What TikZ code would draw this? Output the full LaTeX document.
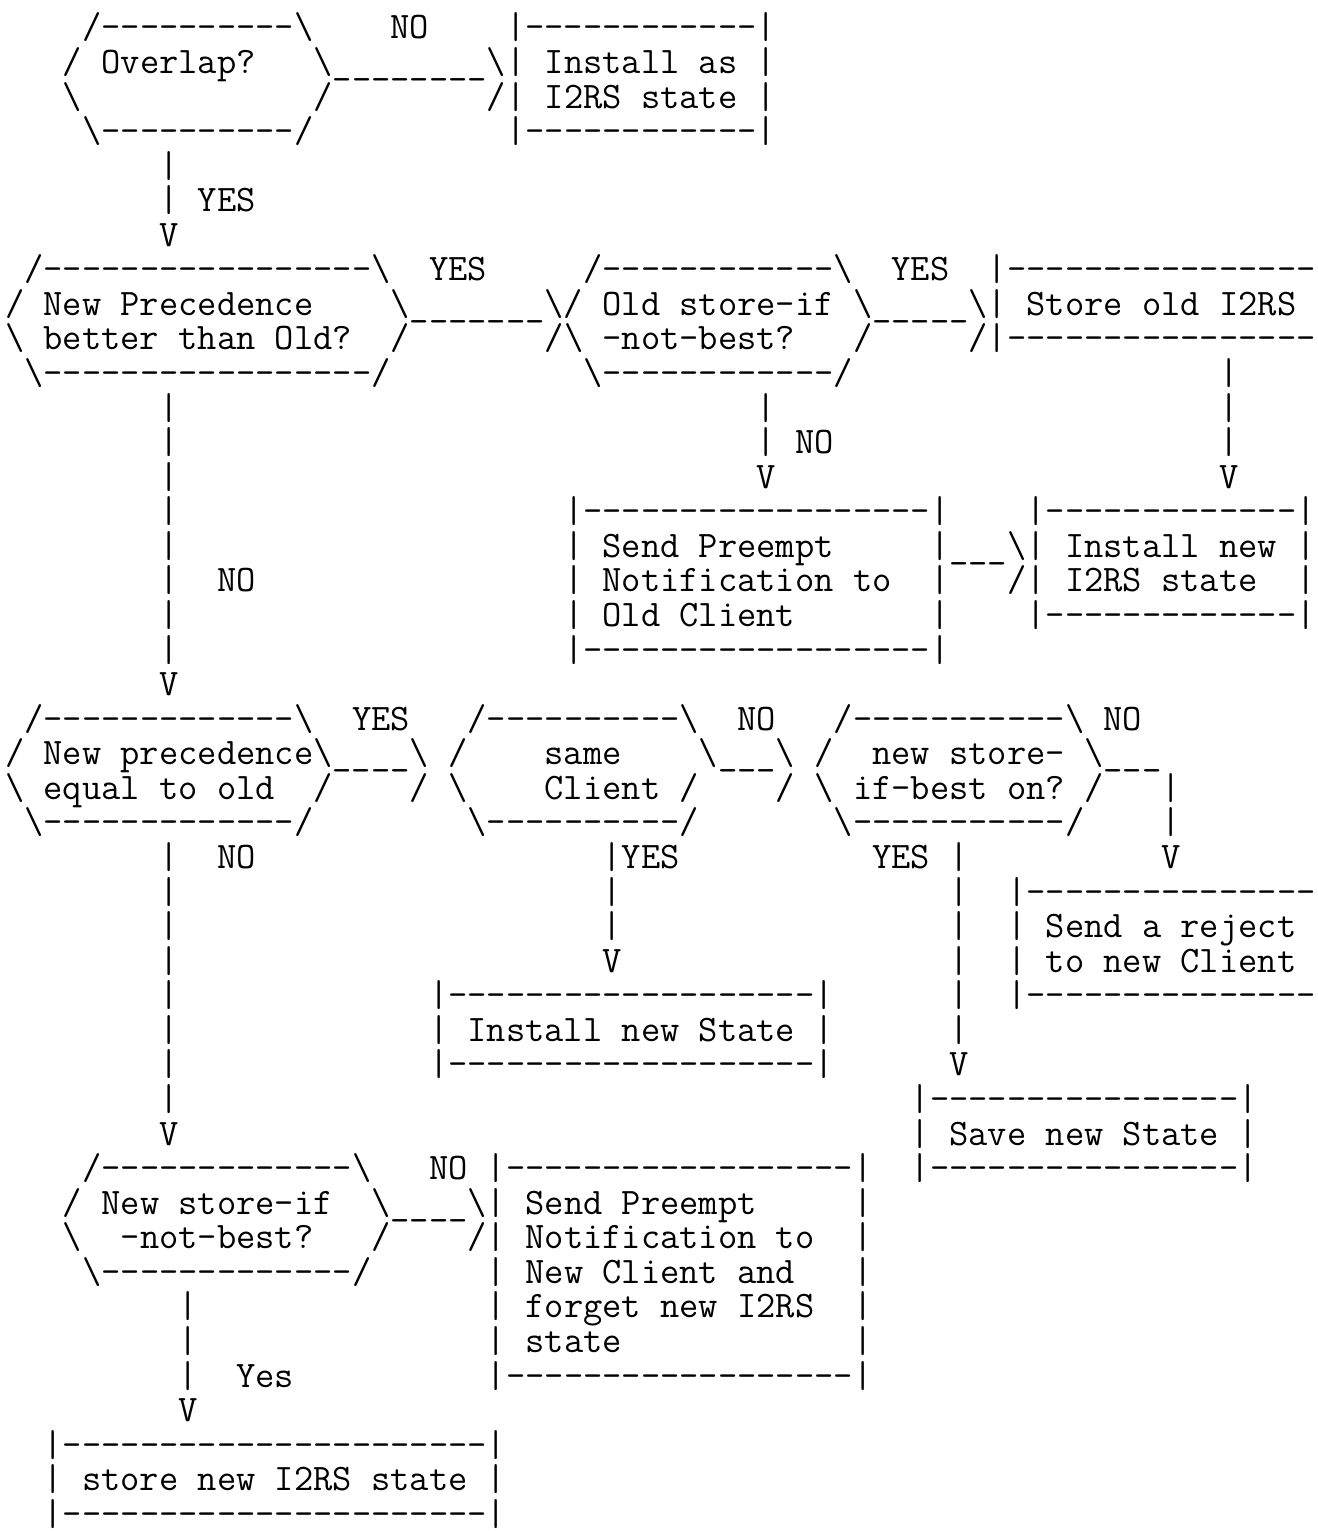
\documentclass[tikz,border=0pt]{standalone}
\usepackage{fontspec}
\usepackage{tikz}
\newcommand{\bk}{\textbackslash}
\newcommand{\gp}[1]{\hspace*{#1\fontcharwd\font`0}}

\begin{document}
\begin{tikzpicture}[x=6pt, y=-10.773pt]
	\tikzset{ascii/.style={anchor=base west, inner sep=0pt, font=\fontsize{11.662}{13}\selectfont\ttfamily\frenchspacing}}
	\useasboundingbox (-0.2333,-1.125) rectangle (68.22,43.165);

	% Overlap?
	\node[ascii] (row_0) at (0,0) {\gp{4}/----------\bk\gp{4}NO\gp{4}|------------|};
	\node[ascii] (row_1) at (0,1) {\gp{3}/ Overlap?\gp{3}\bk\_\_\_\_\_\_\_\_\bk| Install as |};
	\node[ascii] (row_2) at (0,2) {\gp{3}\bk\gp{12}/\gp{8}/| I2RS state |};
	\node[ascii] (row_3) at (0,3) {\gp{4}\bk----------/\gp{10}|------------|};
	\node[ascii] (row_4) at (0,4) {\gp{8}|};
	\node[ascii] (row_5) at (0,5) {\gp{8}| YES};
	\node[ascii] (row_6) at (0,6) {\gp{8}V};

	% precedence better / old store-if-not-best
	\node[ascii] (row_7) at (0,7) {\gp{1}/-----------------\bk\gp{2}YES\gp{5}/------------\bk\gp{2}YES\gp{2}|----------------};
	\node[ascii] (row_8) at (0,8) {/ New Precedence\gp{4}\bk\_\_\_\_\_\_\_\bk/ Old store-if\gp{1}\bk\_\_\_\_\_\bk| Store old I2RS};
	\node[ascii] (row_9) at (0,9) {\bk{} better than Old?\gp{2}/\gp{7}/\bk{} -not-best?\gp{3}/\gp{5}/|----------------};
	\node[ascii] (row_10) at (0,10) {\gp{1}\bk-----------------/\gp{10}\bk------------/\gp{19}|};
	\node[ascii] (row_11) at (0,11) {\gp{8}|\gp{30}|\gp{23}|};
	\node[ascii] (row_12) at (0,12) {\gp{8}|\gp{30}| NO\gp{20}|};
	\node[ascii] (row_13) at (0,13) {\gp{8}|\gp{30}V\gp{23}V};
	\node[ascii] (row_14) at (0,14) {\gp{8}|\gp{20}|------------------|\gp{4}|-------------|};
	\node[ascii] (row_15) at (0,15) {\gp{8}|\gp{20}| Send Preempt\gp{5}|\_\_\_\bk| Install new |};
	\node[ascii] (row_16) at (0,16) {\gp{8}|\gp{2}NO\gp{16}| Notification to\gp{2}|\gp{3}/| I2RS state\gp{2}|};
	\node[ascii] (row_17) at (0,17) {\gp{8}|\gp{20}| Old Client\gp{7}|\gp{4}|-------------|};
	\node[ascii] (row_18) at (0,18) {\gp{8}|\gp{20}|------------------|};
	\node[ascii] (row_19) at (0,19) {\gp{8}V};

	% precedence equal / same client / store-if-best
	\node[ascii] (row_20) at (0,20) {\gp{1}/-------------\bk\gp{2}YES\gp{3}/----------\bk\gp{2}NO\gp{3}/-----------\bk{} NO};
	\node[ascii] (row_21) at (0,21) {/ New precedence\bk\_\_\_\_\bk{} /\gp{4}same\gp{4}\bk\_\_\_\bk{} /\gp{2}new store-\gp{1}\bk\_\_\_};
	\node[ascii] (row_22) at (0,22) {\bk{} equal to old\gp{2}/\gp{4}/ \bk\gp{4}Client /\gp{4}/ \bk{} if-best on? /\gp{3}|};
	\node[ascii] (row_23) at (0,23) {\gp{1}\bk-------------/\gp{8}\bk----------/\gp{7}\bk-----------/\gp{4}|};
	\node[ascii] (row_24) at (0,24) {\gp{8}|\gp{2}NO\gp{18}|YES\gp{10}YES |\gp{10}V};
	\node[ascii] (row_25) at (0,25) {\gp{8}|\gp{22}|\gp{17}|\gp{2}|---------------};
	\node[ascii] (row_26) at (0,26) {\gp{8}|\gp{22}|\gp{17}|\gp{2}| Send a reject};
	\node[ascii] (row_27) at (0,27) {\gp{8}|\gp{22}V\gp{17}|\gp{2}| to new Client};
	\node[ascii] (row_28) at (0,28) {\gp{8}|\gp{13}|-------------------|\gp{6}|\gp{2}|---------------};
	\node[ascii] (row_29) at (0,29) {\gp{8}|\gp{13}| Install new State |\gp{6}|};
	\node[ascii] (row_30) at (0,30) {\gp{8}|\gp{13}|-------------------|\gp{6}V};
	\node[ascii] (row_31) at (0,31) {\gp{8}|\gp{38}|----------------|};
	\node[ascii] (row_32) at (0,32) {\gp{8}V\gp{38}| Save new State |};

	% new store-if-not-best
	\node[ascii] (row_33) at (0,33) {\gp{4}/-------------\bk\gp{3}NO |------------------|\gp{2}|----------------|};
	\node[ascii] (row_34) at (0,34) {\gp{3}/ New store-if\gp{2}\bk\_\_\_\_\bk| Send Preempt\gp{5}|};
	\node[ascii] (row_35) at (0,35) {\gp{3}\bk\gp{2}-not-best?\gp{3}/\gp{4}/| Notification to\gp{2}|};
	\node[ascii] (row_36) at (0,36) {\gp{4}\bk-------------/\gp{6}| New Client and\gp{3}|};
	\node[ascii] (row_37) at (0,37) {\gp{9}|\gp{15}| forget new I2RS\gp{2}|};
	\node[ascii] (row_38) at (0,38) {\gp{9}|\gp{15}| state\gp{12}|};
	\node[ascii] (row_39) at (0,39) {\gp{9}|\gp{2}Yes\gp{10}|------------------|};
	\node[ascii] (row_40) at (0,40) {\gp{9}V};
	\node[ascii] (row_41) at (0,41) {\gp{2}|----------------------|};
	\node[ascii] (row_42) at (0,42) {\gp{2}| store new I2RS state |};
	\node[ascii] (row_43) at (0,43) {\gp{2}|----------------------|};

\end{tikzpicture}
\end{document}
